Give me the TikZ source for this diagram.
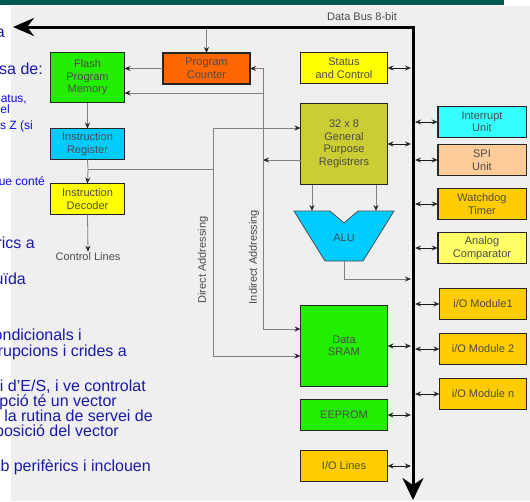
\documentclass[tikz,border=0pt]{standalone}
\usepackage{fontspec}
\setmainfont{Liberation Sans}
\usetikzlibrary{arrows.meta,calc,positioning}
\definecolor{slidebar}{RGB}{0,88,80}
\definecolor{panel}{RGB}{239,239,239}
\definecolor{navy}{RGB}{26,26,166}
\definecolor{brightblue}{RGB}{10,10,235}
\definecolor{flashgreen}{RGB}{34,238,0}
\definecolor{pcorange}{RGB}{255,102,0}
\definecolor{ircyan}{RGB}{0,204,255}
\definecolor{decyellow}{RGB}{255,255,0}
\definecolor{gprolive}{RGB}{204,204,51}
\definecolor{intcyan}{RGB}{51,255,255}
\definecolor{spipeach}{RGB}{255,204,153}
\definecolor{ioorange}{RGB}{255,204,0}
\definecolor{analogyellow}{RGB}{255,255,102}
\newdimen\hdim
\newdimen\wdim
\hdim=31pt
\wdim=87pt
\tikzstyle{element}=[
  draw=black!85,
  font={\fontsize{11}{12.5}\selectfont},
  inner sep=0pt,
  minimum height=\hdim,
  minimum width=\wdim,
  outer sep=0pt,
  rectangle,
  align=center,
  line width=1.5pt,
  text=black!70,
]
\tikzstyle{arrow}=[
  draw=black!50,
  line width=.8pt,
]
\tikzstyle{busarrow}=[
  draw=black!90,
  line width=.9pt,
]
\tikzstyle{bus}=[
  draw=black,
  line width=3pt,
  line join=miter,
]
\tikzstyle{arrowlabel}=[
  text=black!70,
  font={\fontsize{11}{12.5}\selectfont},
  inner sep=1pt,
]
\tikzstyle{slidetext}=[
  anchor=base east,
  inner sep=0pt,
  font={\fontsize{16}{16}\selectfont},
  text=navy,
]
\tikzstyle{slidesmall}=[
  slidetext,
  font={\fontsize{12}{12}\selectfont},
  text=brightblue,
]
\tikzset{
  >={Stealth[length=6pt,width=5pt,color=black!85]},
}

\begin{document}
\begin{tikzpicture}[x=1pt,y=-1pt]
      \useasboundingbox (0,0) rectangle (530,501);
      \clip (0,0) rectangle (530,501);
      \fill [slidebar] (0,0) rectangle (504,4.5);
      \fill [panel] (11,5.5) rectangle (530,501);
      %% text of the slide behind
      \node (s1) [slidetext] at (5,37) {a};
      \node (s2) [slidetext] at (43,74) {sa de:};
      \node (s3) [slidesmall] at (27,102) {atus,};
      \node (s4) [slidesmall] at (10,113) {el};
      \node (s5) [slidesmall] at (33,129) {s Z (si};
      \node (s6) [slidesmall] at (45,185) {ue conté};
      \node (s7) [slidetext] at (35,248) {rics a};
      \node (s8) [slidetext] at (26,284) {uïda};
      \node (s9) [slidetext] at (82,340) {ondicionals i};
      \node (s10) [slidetext] at (127,356) {rupcions i crides a};
      \node (s11) [slidetext] at (146,391) {ai d'E/S, i ve controlat};
      \node (s12) [slidetext] at (117,406) {pció té un vector};
      \node (s13) [slidetext] at (153,421) {r la rutina de servei de};
      \node (s14) [slidetext] at (119,436) {posició del vector};
      \node (s15) [slidetext] at (151,471) {b perifèrics i inclouen};
      %%
      \coordinate (bustip) at (13,27);
      \coordinate (buscorner) at (413,27);
      \coordinate (busend) at (413,500);
      \coordinate (busleft) at (411,27);
      \coordinate (busright) at (415,27);
      \node (buslabel) [arrowlabel] at (362,17) {Data Bus 8-bit};
      %%
      \node (flash) [element, fill=flashgreen, minimum width=74pt, minimum height=50pt] at (87.5,77.5) {Flash\\Program\\Memory};
      \node (ir) [element, fill=ircyan, minimum width=74pt, below=26pt of flash] {Instruction\\Register};
      \node (dec) [element, fill=decyellow, minimum width=74pt, below=24pt of ir] {Instruction\\Decoder};
      \node (ctrl) [arrowlabel] at (88,257) {Control Lines};
      \node (pc) [element, fill=pcorange] at (206.5,68.5) {Program\\Counter};
      %%
      \node (status) [element, fill=decyellow] at (344,68) {Status\\and Control};
      \node (gpr) [element, fill=gprolive, minimum height=81pt] at (344,144) {32 x 8\\General\\Purpose\\Registrers};
      \node (sram) [element, fill=flashgreen, minimum height=81pt] at (344,346) {Data\\SRAM};
      \node (eeprom) [element, fill=flashgreen, below=13pt of sram] {EEPROM};
      \node (iolines) [element, fill=ioorange] at (344,466) {I/O Lines};
      %%
      \node (interrupt) [element, fill=intcyan, minimum width=88.5pt] at (482,122) {Interrupt\\Unit};
      \node (spi) [element, fill=spipeach, minimum width=88.5pt] at (482,160) {SPI\\Unit};
      \node (wdt) [element, fill=ioorange, minimum width=88.5pt] at (482,204) {Watchdog\\Timer};
      \node (anacomp) [element, fill=analogyellow, minimum width=88.5pt] at (482,248) {Analog\\Comparator};
      \node (io1) [element, fill=ioorange] at (483,304) {i/O Module1};
      \node (io2) [element, fill=ioorange] at (483,349) {i/O Module 2};
      \node (ion) [element, fill=ioorange] at (483,394) {i/O Module n};
      %% ALU
      \filldraw [fill=ircyan, draw=black!70, line width=.8pt] (294,211) -- (330,211) -- (344,223)
      -- (358,211) -- (394,211) -- (363,261) -- (325,261) -- cycle;
      \node (alu) [arrowlabel] at (344,238) {ALU};
      \coordinate (alul) at (312,211);
      \coordinate (alur) at (376,211);
      \coordinate (aluout) at (344,261);
      \coordinate (aluturn) at (344,279);
      %%
      \draw [->, arrow] (gpr.south -| alul) -- (alul);
      \draw [->, arrow] (gpr.south -| alur) -- (alur);
      \draw [->, arrow] (aluout) -- (aluturn) -- (aluturn -| busleft);
      %%
      \draw [->, arrow] (buscorner -| pc.north) -- (pc.north);
      \draw [->, arrow] (pc.west) -- (pc.west -| flash.east);
      \draw [->, arrow] (flash) -- (ir);
      %% direct addressing
      \coordinate (dirbranch) at (88,169);
      \coordinate (dirjoin) at (213,169);
      \coordinate (dirtop) at (213,128);
      \coordinate (dirbot) at (213,356);
      \draw [arrow] (ir.south) -- (dirbranch);
      \draw [->, arrow] (dirbranch) -- (dec.north);
      \draw [->, arrow] (dirbranch) -- (dirjoin) -- (dirtop) -- (dirtop -| gpr.west);
      \draw [->, arrow] (dirjoin) -- (dirbot) -- (dirbot -| sram.west);
      \node (direct) [arrowlabel, rotate=90] at (203,260) {Direct Addressing};
      %% indirect addressing
      \coordinate (indtop) at (263,68.5);
      \coordinate (indflash) at (263,93);
      \coordinate (indgpr) at (263,160);
      \coordinate (indbot) at (263,329);
      \draw [->, arrow] (indgpr -| gpr.west) -- (indgpr);
      \draw [->, arrow] (indbot) -- (indtop) -- (pc.east);
      \draw [->, arrow] (indflash) -- (indflash -| flash.east);
      \draw [->, arrow] (indtop) -- (indbot) -- (indbot -| sram.west);
      \node (indirect) [arrowlabel, rotate=90] at (254,257) {Indirect Addressing};
      \draw [->, arrow] (dec.south) -- (ctrl.north);
      %% data bus
      \draw [<->, busarrow] (status.east) -- (status.east -| busleft);
      \draw [<->, busarrow] (gpr.east) -- (gpr.east -| busleft);
      \draw [<->, busarrow] (sram.east) -- (sram.east -| busleft);
      \draw [<->, busarrow] (eeprom.east) -- (eeprom.east -| busleft);
      \draw [<->, busarrow] (iolines.east) -- (iolines.east -| busleft);
      \draw [<->, busarrow] (interrupt.west) -- (interrupt.west -| busright);
      \draw [<->, busarrow] (spi.west) -- (spi.west -| busright);
      \draw [<->, busarrow] (wdt.west) -- (wdt.west -| busright);
      \draw [<->, busarrow] (anacomp.west) -- (anacomp.west -| busright);
      \draw [<->, busarrow] (io1.west) -- (io1.west -| busright);
      \draw [<->, busarrow] (io2.west) -- (io2.west -| busright);
      \draw [<->, busarrow] (ion.west) -- (ion.west -| busright);
      \draw [bus, {Stealth[length=21pt,width=18pt]}-{Stealth[length=22pt,width=21pt]}] (bustip) -- (buscorner) -- (busend);
    \end{tikzpicture}
\end{document}
